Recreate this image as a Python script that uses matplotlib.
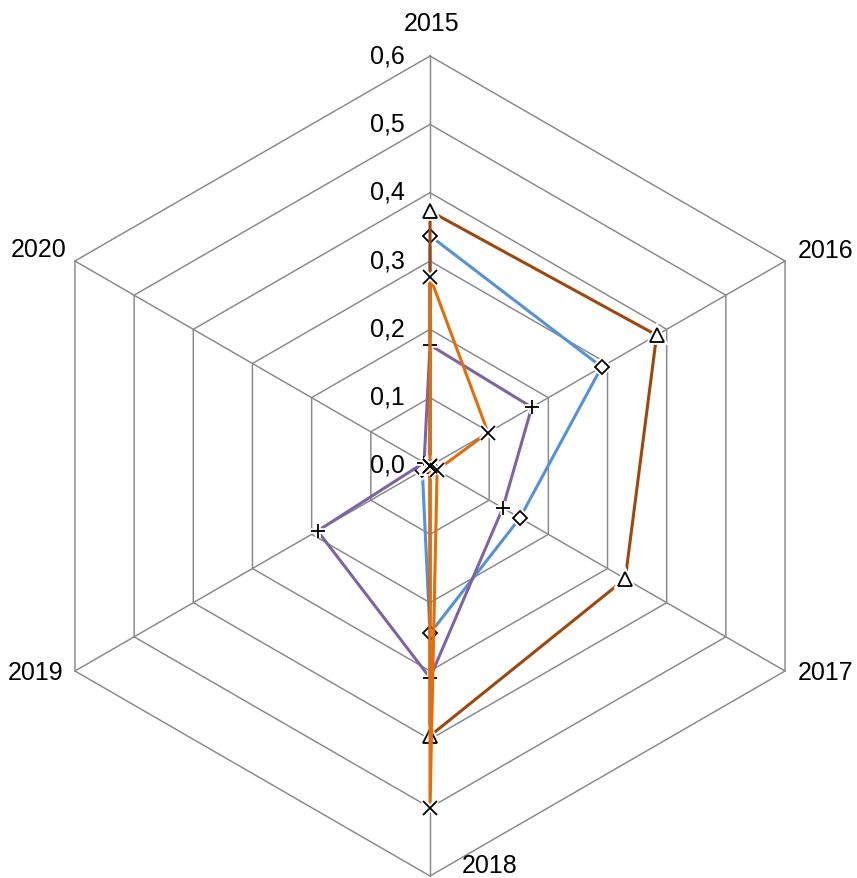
import numpy as np
import matplotlib
matplotlib.use('Agg')
import matplotlib.pyplot as plt

plt.rcParams['font.family'] = ['Liberation Sans', 'DejaVu Sans']

years = ['2015', '2016', '2017', '2018', '2019', '2020']
tick_vals = [0.0, 0.1, 0.2, 0.3, 0.4, 0.5, 0.6]
tick_labels = ['0,0', '0,1', '0,2', '0,3', '0,4', '0,5', '0,6']

# series values, one per year
blue_vals = [0.337, 0.29, 0.152, 0.245, 0.013, 0.0]
purple_vals = [0.177, 0.172, 0.123, 0.31, 0.19, 0.01]
brown_vals = [0.373, 0.383, 0.33, 0.395, 0.0, 0.0]
orange_vals = [0.277, 0.098, 0.012, 0.50, 0.0, 0.0]

RMAX = 0.6
W, H = 857, 879
CX, CY = 430, 467          # centre in pixels
SCALE = 683.3              # pixels per unit

ang = np.deg2rad(np.arange(len(years)) * 60.0)


def to_xy(vals):
    v = np.asarray(vals, dtype=float)
    v = np.append(v, v[0])
    a = np.append(ang, ang[0])
    return v * np.sin(a), v * np.cos(a)


fig = plt.figure(figsize=(W / 100, H / 100), dpi=100)
ax = fig.add_axes([0, 0, 1, 1])
ax.set_xlim(-CX / SCALE, (W - CX) / SCALE)
ax.set_ylim(-(H - CY) / SCALE, CY / SCALE)
ax.axis('off')

grid_c = '#888888'
for lv in tick_vals[1:]:
    gx, gy = to_xy([lv] * len(years))
    ax.plot(gx, gy, color=grid_c, lw=1.05, zorder=1)
for a in ang:
    ax.plot([0, RMAX * np.sin(a)], [0, RMAX * np.cos(a)], color=grid_c, lw=1.05, zorder=1)

# tick labels along the top spoke
for v, t in zip(tick_vals, tick_labels):
    ax.annotate(t, xy=(0, v), xytext=(-25, 1), textcoords='offset pixels',
                ha='right', va='center', fontsize=18, color='black')

# category labels
offsets = [(2, 33, 'center'), (13, 11, 'left'), (13, -1, 'left'),
           (32, 11, 'left'), (-12, -1, 'right'), (-8, 12, 'right')]
for a, y, (dx, dy, ha) in zip(ang, years, offsets):
    ax.annotate(y, xy=(RMAX * np.sin(a), RMAX * np.cos(a)), xytext=(dx, dy),
                textcoords='offset pixels', ha=ha, va='center', fontsize=18)

series = [
    (blue_vals, '#5592D8', 'D', 6.8),
    (purple_vals, '#8064A2', '+', 10.5),
    (brown_vals, '#9E480E', '^', 9.5),
    (orange_vals, '#E46C0A', 'x', 9.5),
]

z = 2
for vals, col, mk, ms in series:
    sx, sy = to_xy(vals)
    ax.plot(sx, sy, color=col, lw=2.2, zorder=z, solid_joinstyle='round')
    # white halo so the line stops short of the marker
    ax.plot(sx[:-1], sy[:-1], ls='none', marker=mk, ms=ms, mfc='white',
            mec='white', mew=4, zorder=z + 0.1)
    ax.plot(sx[:-1], sy[:-1], ls='none', marker=mk, ms=ms, mfc='white',
            mec='black', mew=1.3, zorder=z + 0.2)
    z += 1

fig.savefig('out.png', dpi=100)
